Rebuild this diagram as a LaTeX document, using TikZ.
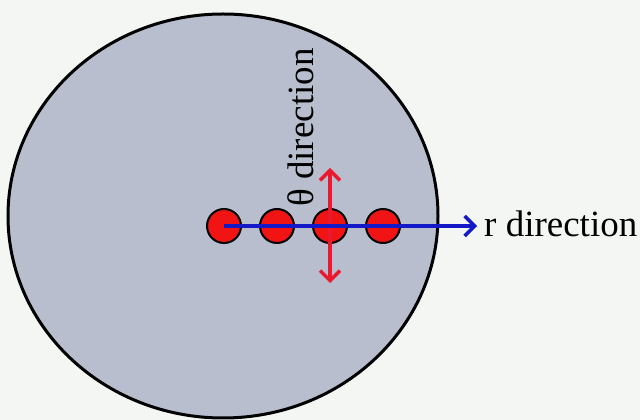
\documentclass[tikz,border=0pt]{standalone}
\usepackage{fontspec}
\setmainfont{Liberation Serif}
\usetikzlibrary{arrows.meta}
\definecolor{bgc}{RGB}{244,246,244}
\definecolor{diskc}{RGB}{184,190,206}
\definecolor{dotred}{RGB}{240,20,20}
\definecolor{arrred}{RGB}{235,25,45}
\definecolor{arrblue}{RGB}{20,25,200}
\tikzset{
  dot/.style={circle,draw=black,line width=2pt,fill=dotred,minimum size=34pt,inner sep=0pt},
  lbl/.style={inner sep=0pt,font=\fontsize{37}{40}\selectfont},
  barb/.style={-{Straight Barb[length=10pt,width=20pt,line width=3.5pt]}}
}
\begin{document}
\begin{tikzpicture}[x=1pt,y=1pt]
\fill[bgc] (0,0) rectangle (640,420);
\useasboundingbox (0,0) rectangle (640,420);
\draw[fill=diskc,line width=3pt] (223,204) ellipse [x radius=215, y radius=202];
\node[dot] (c1) at (224,194) {};
\node[dot] (c2) at (277,194) {};
\node[dot] (c3) at (330,194) {};
\node[dot] (c4) at (383,194) {};
\coordinate (rtip) at (477,194);
\coordinate (ttop) at (330,252);
\coordinate (tbot) at (330,137);
\draw[arrred,line width=3.5pt,barb] (c3.center) -- (ttop);
\draw[arrred,line width=3.5pt,barb] (c3.center) -- (tbot);
\draw[arrblue,line width=4pt,barb] (c1.center) -- (rtip);
\node[lbl,anchor=base west] (rl) at (484,183) {r direction};
\node[lbl,anchor=base west,rotate=90] (tl) at (313,213) {θ direction};
\end{tikzpicture}
\end{document}
